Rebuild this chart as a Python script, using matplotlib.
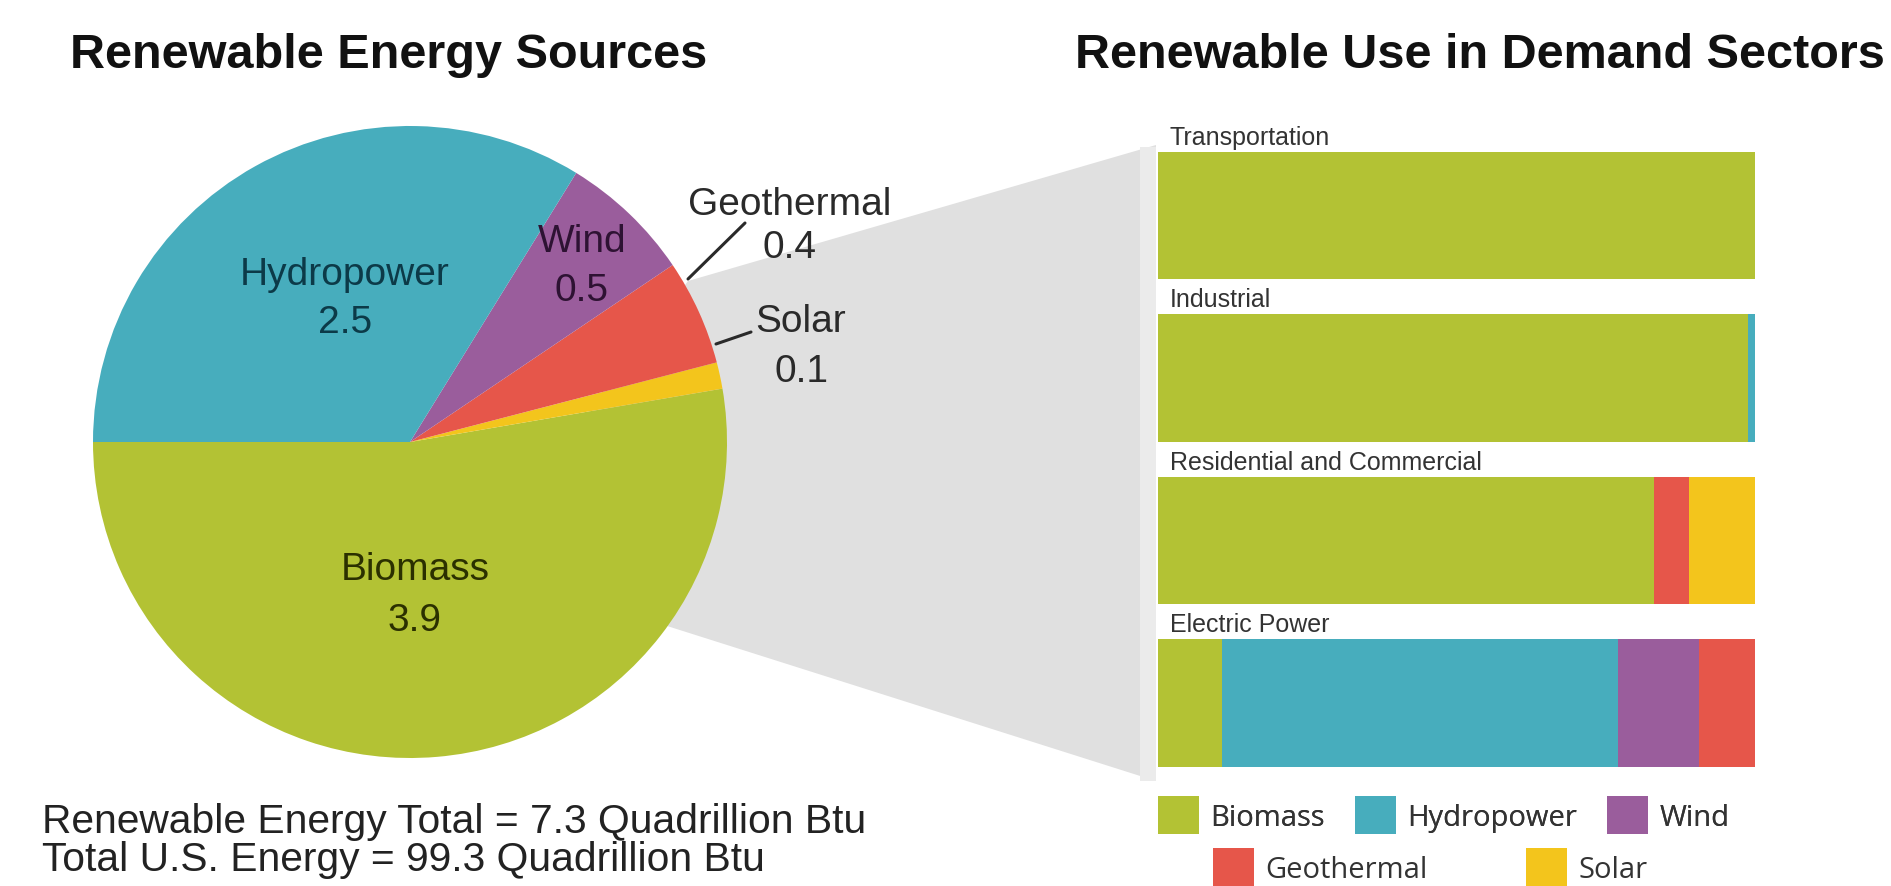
import matplotlib
matplotlib.use("Agg")
import matplotlib.pyplot as plt
from matplotlib.patches import Polygon, Rectangle, Patch
from matplotlib.transforms import Affine2D
import numpy as np

# ---------------- data ----------------
sources = ["Biomass", "Solar", "Geothermal", "Wind", "Hydropower"]
source_values = [3.9, 0.1, 0.4, 0.5, 2.5]

sectors = ["Transportation", "Industrial", "Residential and Commercial", "Electric Power"]
biomass_share = [100.0, 98.8, 83.1, 10.7]
hydro_share = [0.0, 1.2, 0.0, 66.3]
wind_share = [0.0, 0.0, 0.0, 13.6]
geo_share = [0.0, 0.0, 5.9, 9.4]
solar_share = [0.0, 0.0, 11.0, 0.0]

legend_row1 = ["Biomass", "Hydropower", "Wind"]
legend_row2 = ["Geothermal", "Solar"]

title_left = "Renewable Energy Sources"
title_right = "Renewable Use in Demand Sectors"
footer_lines = ["Renewable Energy Total = 7.3 Quadrillion Btu",
                "Total U.S. Energy = 99.3 Quadrillion Btu"]

# ---------------- styles ----------------
colors = {"Biomass": "#b3c234", "Hydropower": "#47adbd", "Wind": "#9a5d9c",
          "Geothermal": "#e6564a", "Solar": "#f3c51c"}
label_colors = {"Biomass": "#2b3000", "Hydropower": "#0c3a48", "Wind": "#2e1233",
                "Geothermal": "#2a2a2a", "Solar": "#2a2a2a"}

W, H = 1891, 887
fig = plt.figure(figsize=(W / 100, H / 100), dpi=100)
fig.patch.set_facecolor("white")
px = Affine2D().scale(1.0 / W, -1.0 / H).translate(0, 1) + fig.transFigure

def ax_rect(x0, y0, x1, y1):
    return [x0 / W, 1 - y1 / H, (x1 - x0) / W, (y1 - y0) / H]

SANS = ["Liberation Sans", "DejaVu Sans"]

# ---------------- gray connector ----------------
conn = Polygon([(688, 282), (1156, 146), (1156, 782), (664, 626), (560, 450)],
               closed=True, transform=px, facecolor="#e0e0e0", edgecolor="none", zorder=-2)
fig.add_artist(conn)
fig.add_artist(Rectangle((1140, 148), 16, 634, transform=px, facecolor="#ebebeb",
                         edgecolor="none", zorder=-1))

# ---------------- pie ----------------
pcx, pcy, rx, ry = 410, 443, 317, 316
axp = fig.add_axes(ax_rect(pcx - rx, pcy - ry, pcx + rx, pcy + ry))
wedges, _ = axp.pie(source_values, colors=[colors[s] for s in sources],
                    startangle=180, counterclock=True, radius=1.0,
                    wedgeprops=dict(linewidth=0))
axp.set_aspect("auto")
axp.set_xlim(-1, 1)
axp.set_ylim(-1, 1)
axp.axis("off")
axp.patch.set_visible(False)

def to_data(x, y):
    return (x - pcx) / rx, (pcy - y) / ry

vals = dict(zip(sources, source_values))
label_pos = {
    "Hydropower": (345, 285, 333),
    "Biomass": (415, 580, 631),
    "Wind": (582, 252, 301),
    "Geothermal": (790, 215, 258),
    "Solar": (801, 332, 382),
}
for name, (lx, b1, b2) in label_pos.items():
    x1, y1 = to_data(lx, b1)
    x2, y2 = to_data(lx, b2)
    axp.text(x1, y1, name, ha="center", va="baseline", fontsize=28,
             family=SANS, color=label_colors[name], clip_on=False)
    axp.text(x2, y2, f"{vals[name]:.1f}", ha="center", va="baseline", fontsize=28,
             family=SANS, color=label_colors[name], clip_on=False)

# leader lines
for (xa, ya), (xb, yb) in [((745, 224), (688, 280)), ((751, 333), (716, 345))]:
    axp.annotate("", xy=to_data(xb, yb), xytext=to_data(xa, ya),
                 arrowprops=dict(arrowstyle="-", color="#2a2a2a", lw=2.2,
                                 shrinkA=0, shrinkB=0),
                 annotation_clip=False)

# ---------------- stacked bars ----------------
bar_px_top, bar_px_bot = 135.25, 785.25
axb = fig.add_axes(ax_rect(1158, bar_px_top, 1755, bar_px_bot))
ypos = np.arange(len(sectors))
bh = 0.785
left = np.zeros(len(sectors))
for name, share in [("Biomass", biomass_share), ("Hydropower", hydro_share),
                    ("Wind", wind_share), ("Geothermal", geo_share),
                    ("Solar", solar_share)]:
    share = np.array(share)
    axb.barh(ypos, share, left=left, height=bh, color=colors[name], linewidth=0)
    left += share
axb.set_xlim(0, 100)
axb.set_ylim(len(sectors) - 0.5, -0.5)
axb.axis("off")
axb.patch.set_visible(False)
for i, s in enumerate(sectors):
    axb.text(2.0, i - bh / 2 - 0.05, s, ha="left", va="baseline", fontsize=18,
             family=SANS, color="#333333")

# ---------------- legends ----------------
LEG_FONT = ["Open Sans", "DejaVu Sans"]
h1 = [Patch(facecolor=colors[n], edgecolor="none") for n in legend_row1]
h2 = [Patch(facecolor=colors[n], edgecolor="none") for n in legend_row2]
common = dict(loc="upper left", frameon=False, prop=dict(family=LEG_FONT, size=21),
              handlelength=1.4, handleheight=1.65, handletextpad=0.38,
              borderpad=0, borderaxespad=0, labelcolor="#333333")
leg1 = fig.legend(h1, legend_row1, bbox_to_anchor=(1158 / W, 1 - 797 / H), ncol=3,
                  columnspacing=1.05, **common)
leg2 = fig.legend(h2, legend_row2, bbox_to_anchor=(1213 / W, 1 - 849 / H), ncol=2,
                  columnspacing=3.4, **common)
fig.add_artist(leg1)

# ---------------- titles & footer ----------------
fig.text(70 / W, 1 - 68 / H, title_left, ha="left", va="baseline", fontsize=35,
         fontweight="bold", family=SANS, color="#111111")
fig.text(1075 / W, 1 - 68 / H, title_right, ha="left", va="baseline", fontsize=35,
         fontweight="bold", family=SANS, color="#111111")
for k, line in enumerate(footer_lines):
    fig.text(42 / W, 1 - (833 + 38 * k) / H, line, ha="left", va="baseline",
             fontsize=29.3, family=SANS, color="#222222")

fig.savefig("out.png", dpi=100, facecolor="white")
